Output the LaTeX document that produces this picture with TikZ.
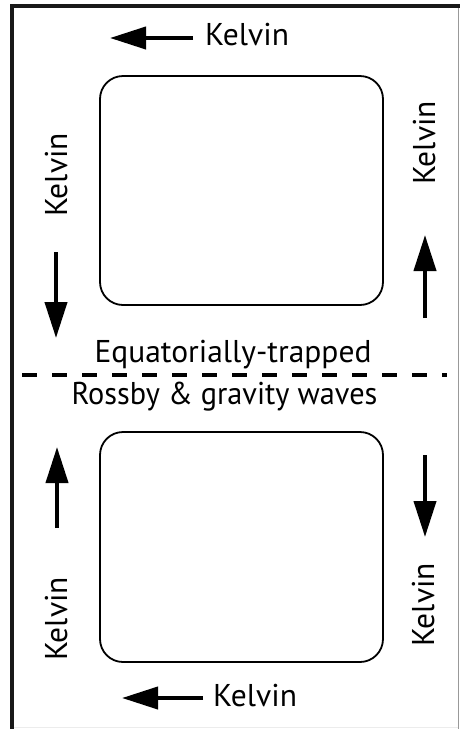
\documentclass[tikz,border=0pt]{standalone}
\usepackage{fontspec}
\setmainfont{PT Sans}
\usetikzlibrary{arrows.meta}
\begin{document}
\begin{tikzpicture}[x=1pt,y=-1pt,
  lbl/.style={font=\fontsize{31.5}{31.5}\selectfont, inner sep=0pt},
  wave/.style={line width=4pt, -{Triangle[length=36pt,width=22pt]}},
  basin/.style={draw, line width=1.8pt, rounded corners=23pt},
  frame/.style={line width=4.5pt, black!90}]
\useasboundingbox (0,0) rectangle (460,729);
\fill[white] (0,0) rectangle (460,729);
% frame
\draw[gray!15, line width=1pt] (14,727.5) -- (459,727.5);
\draw[gray!80, line width=1.5pt] (458.5,4) -- (458.5,729);
\draw[frame] (12,6) -- (460,6);
\draw[frame] (12,4) -- (12,729);
% basins
\node[basin, minimum width=283pt, minimum height=229pt, inner sep=0pt] (topbox) at (241.5,190.5) {};
\node[basin, minimum width=283pt, minimum height=230pt, inner sep=0pt] (botbox) at (241.5,547) {};
% dashed equator
\coordinate (eqL) at (22,375);
\coordinate (eqR) at (447,375);
\draw[line width=4pt, dash pattern=on 15pt off 15pt] (eqL) -- (eqR);
\node[lbl, anchor=base] (eqtxt) at (233,362) {Equatorially-trapped};
\node[lbl, anchor=base] (rgtxt) at (224.5,404) {\scalebox{0.962}[1]{Rossby \& gravity waves}};
% top
\coordinate (t1) at (193,38); \coordinate (t2) at (110,38);
\draw[wave] (t1) -- (t2);
\node[lbl, anchor=base west] (ktop) at (205,45) {Kelvin};
% bottom
\coordinate (b1) at (203,698); \coordinate (b2) at (122,698);
\draw[wave] (b1) -- (b2);
\node[lbl, anchor=base west] (kbot) at (213,706) {Kelvin};
% top-left
\node[lbl, rotate=90, anchor=base] (ktl) at (67,175) {Kelvin};
\coordinate (tl1) at (56,252); \coordinate (tl2) at (56,338);
\draw[wave] (tl1) -- (tl2);
% top-right
\node[lbl, rotate=90, anchor=base] (ktr) at (435,143) {Kelvin};
\coordinate (tr1) at (425,318); \coordinate (tr2) at (425,235);
\draw[wave] (tr1) -- (tr2);
% bottom-left
\coordinate (bl1) at (57,528); \coordinate (bl2) at (57,447);
\draw[wave] (bl1) -- (bl2);
\node[lbl, rotate=90, anchor=base] (kbl) at (67,619) {Kelvin};
% bottom-right
\coordinate (br1) at (425,455); \coordinate (br2) at (425,537);
\draw[wave] (br1) -- (br2);
\node[lbl, rotate=90, anchor=base] (kbr) at (434,605) {Kelvin};
\end{tikzpicture}
\end{document}
